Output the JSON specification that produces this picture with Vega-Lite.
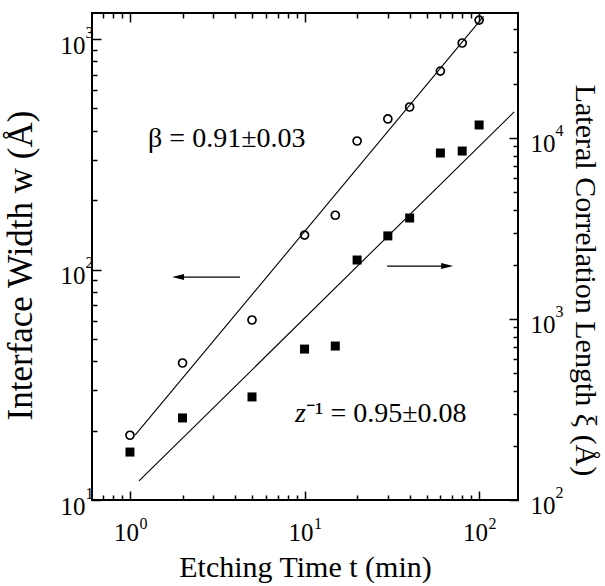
{
  "$schema": "https://vega.github.io/schema/vega-lite/v6.json",
  "width": 426,
  "height": 487,
  "autosize": "none",
  "padding": {"left": 92, "top": 13, "right": 87, "bottom": 86},
  "background": "white",
  "config": {
    "view": {"stroke": "black", "strokeWidth": 2},
    "font": "Liberation Serif",
    "axis": {"domain": false, "grid": false, "tickColor": "black", "tickWidth": 1.5, "labelColor": "black", "labelFont": "Liberation Serif", "labelFontSize": 25, "labelOverlap": false, "labelFlush": false, "titleFont": "Liberation Serif", "titleFontSize": 30, "titleFontWeight": "normal", "titleColor": "black"}
  },
  "datasets": {
    "width": [{"t":1,"w":19.1},{"t":2,"w":39.3},{"t":5,"w":60.4},{"t":10,"w":141},{"t":15,"w":172},{"t":20,"w":361},{"t":30,"w":450},{"t":40,"w":507},{"t":60,"w":726},{"t":80,"w":961},{"t":100,"w":1208}],
    "corr": [{"t":1,"xi":184},{"t":2,"xi":284},{"t":5,"xi":371},{"t":10,"xi":682},{"t":15,"xi":709},{"t":20,"xi":2118},{"t":30,"xi":2878},{"t":40,"xi":3614},{"t":60,"xi":8263},{"t":80,"xi":8472},{"t":100,"xi":11800}],
    "widthFit": [{"t":1.07,"w":19.1},{"t":106,"w":1254}],
    "corrFit": [{"t":1.127,"xi":127.4},{"t":158.7,"xi":13930}],
    "notes": [{"t":1.27,"w":340,"label":"β = 0.91±0.03"},{"t":10.2,"w":21.8,"label":"⁻¹ = 0.95±0.08"}],
    "notesItalic": [{"t":8.83,"w":21.8,"label":"z"}],
    "arrows": [{"t":1.9,"t2":4.27,"w":92.7},{"t":29.7,"t2":65.6,"w":103.5}],
    "arrowHeads": [{"t":1.885,"w":92.7,"head":"left"},{"t":65.6,"w":103.5,"head":"right"}]
  },
  "layer": [
    {
      "data": {"name": "width"},
      "mark": {"type": "point", "shape": "circle", "filled": false, "stroke": "black", "strokeWidth": 1.7, "size": 64, "opacity": 1},
      "encoding": {
        "x": {"field": "t", "type": "quantitative", "scale": {"type": "log", "domain": [0.606, 167], "nice": false},
          "axis": {"orient": "bottom", "values": [0.7,0.8,0.9,1,2,3,4,5,6,7,8,9,10,20,30,40,50,60,70,80,90,100],
            "tickSize": {"condition": {"test": "abs(log(datum.value)/LN10 - round(log(datum.value)/LN10)) < 0.001", "value": -9}, "value": -5},
            "labelExpr": "abs(log(datum.value)/LN10 - round(log(datum.value)/LN10)) < 0.001 ? '10' : ''",
            "labelPadding": 29, "labelOffset": -4, "title": "Etching Time t (min)", "titlePadding": 3}},
        "y": {"field": "w", "type": "quantitative", "scale": {"type": "log", "domain": [10, 1297], "nice": false},
          "axis": {"orient": "left", "values": [10,20,30,40,50,60,70,80,90,100,200,300,400,500,600,700,800,900,1000],
            "tickSize": {"condition": {"test": "abs(log(datum.value)/LN10 - round(log(datum.value)/LN10)) < 0.001", "value": -9}, "value": -5},
            "labelExpr": "abs(log(datum.value)/LN10 - round(log(datum.value)/LN10)) < 0.001 ? '10' : ''",
            "labelPadding": 16, "labelOffset": 6, "title": "Interface Width w  (Å)", "titleFontSize": 35, "titlePadding": 22, "titleY": 252}}
      }
    },
    {
      "data": {"name": "widthFit"},
      "mark": {"type": "line", "color": "black", "strokeWidth": 1.1},
      "encoding": {
        "x": {"field": "t", "type": "quantitative", "scale": {"type": "log", "domain": [0.606, 167], "nice": false},
          "axis": {"orient": "top", "values": [0.7,0.8,0.9,1,2,3,4,5,6,7,8,9,10,20,30,40,50,60,70,80,90,100],
            "tickSize": {"condition": {"test": "abs(log(datum.value)/LN10 - round(log(datum.value)/LN10)) < 0.001", "value": -9}, "value": -5},
            "labels": false, "title": null}},
        "y": {"field": "w", "type": "quantitative", "scale": {"type": "log", "domain": [10, 1297], "nice": false}, "axis": null}
      }
    },
    {
      "data": {"name": "notes"},
      "mark": {"type": "text", "align": "left", "baseline": "alphabetic", "fontSize": 28, "font": "Liberation Serif", "color": "black"},
      "encoding": {
        "x": {"field": "t", "type": "quantitative", "scale": {"type": "log", "domain": [0.606, 167], "nice": false},
          "axis": {"orient": "bottom", "values": [1, 10, 100], "ticks": false, "tickSize": 0,
            "labelExpr": "'' + round(log(datum.value)/LN10)", "labelFontSize": 16, "labelAlign": "left", "labelBaseline": "top",
            "labelPadding": 15, "labelOffset": 9, "title": null}},
        "y": {"field": "w", "type": "quantitative", "scale": {"type": "log", "domain": [10, 1297], "nice": false},
          "axis": {"orient": "left", "values": [10, 100, 1000], "ticks": false, "tickSize": 0,
            "labelExpr": "'' + round(log(datum.value)/LN10)", "labelFontSize": 16, "labelAlign": "left", "labelBaseline": "middle",
            "labelPadding": 7, "labelOffset": -7, "title": null}},
        "text": {"field": "label"}
      }
    },
    {
      "data": {"name": "notesItalic"},
      "mark": {"type": "text", "align": "left", "baseline": "alphabetic", "fontSize": 28, "fontStyle": "italic", "font": "Liberation Serif", "color": "black"},
      "encoding": {
        "x": {"field": "t", "type": "quantitative", "scale": {"type": "log", "domain": [0.606, 167], "nice": false}, "axis": null},
        "y": {"field": "w", "type": "quantitative", "scale": {"type": "log", "domain": [10, 1297], "nice": false}, "axis": null},
        "text": {"field": "label"}
      }
    },
    {
      "data": {"name": "arrows"},
      "mark": {"type": "rule", "color": "black", "strokeWidth": 1.3},
      "encoding": {
        "x": {"field": "t", "type": "quantitative", "scale": {"type": "log", "domain": [0.606, 167], "nice": false}, "axis": null},
        "x2": {"field": "t2"},
        "y": {"field": "w", "type": "quantitative", "scale": {"type": "log", "domain": [10, 1297], "nice": false}, "axis": null}
      }
    },
    {
      "data": {"name": "arrowHeads"},
      "mark": {"type": "point", "filled": true, "color": "black", "opacity": 1, "size": 144},
      "encoding": {
        "x": {"field": "t", "type": "quantitative", "scale": {"type": "log", "domain": [0.606, 167], "nice": false}, "axis": null},
        "y": {"field": "w", "type": "quantitative", "scale": {"type": "log", "domain": [10, 1297], "nice": false}, "axis": null},
        "shape": {"field": "head", "type": "nominal", "scale": {"domain": ["left", "right"], "range": ["M-1,0L1,-0.5L1,0.5Z", "M1,0L-1,-0.5L-1,0.5Z"]}, "legend": null}
      }
    },
    {
      "data": {"name": "corr"},
      "mark": {"type": "point", "shape": "square", "filled": true, "color": "black", "size": 81, "opacity": 1},
      "encoding": {
        "x": {"field": "t", "type": "quantitative", "scale": {"type": "log", "domain": [0.606, 167], "nice": false}, "axis": null},
        "y": {"field": "xi", "type": "quantitative", "scale": {"type": "log", "domain": [100, 49050], "nice": false},
          "axis": {"orient": "right", "values": [100,200,300,400,500,600,700,800,900,1000,2000,3000,4000,5000,6000,7000,8000,9000,10000,20000,30000,40000],
            "tickSize": {"condition": {"test": "abs(log(datum.value)/LN10 - round(log(datum.value)/LN10)) < 0.001", "value": -9}, "value": -5},
            "labelExpr": "abs(log(datum.value)/LN10 - round(log(datum.value)/LN10)) < 0.001 ? '10' : ''",
            "labelPadding": 21, "labelOffset": 5, "title": "Lateral Correlation Length  ξ (Å)", "titlePadding": 14, "titleY": 267}}
      }
    },
    {
      "data": {"name": "corrFit"},
      "mark": {"type": "line", "color": "black", "strokeWidth": 1.1},
      "encoding": {
        "x": {"field": "t", "type": "quantitative", "scale": {"type": "log", "domain": [0.606, 167], "nice": false}, "axis": null},
        "y": {"field": "xi", "type": "quantitative", "scale": {"type": "log", "domain": [100, 49050], "nice": false},
          "axis": {"orient": "right", "values": [100, 1000, 10000], "ticks": false, "tickSize": 0,
            "labelExpr": "'' + round(log(datum.value)/LN10)", "labelFontSize": 16, "labelAlign": "left", "labelBaseline": "middle",
            "labelPadding": 37, "labelOffset": -8, "title": null}}
      }
    }
  ],
  "resolve": {"scale": {"y": "independent"}, "axis": {"y": "independent"}}
}
